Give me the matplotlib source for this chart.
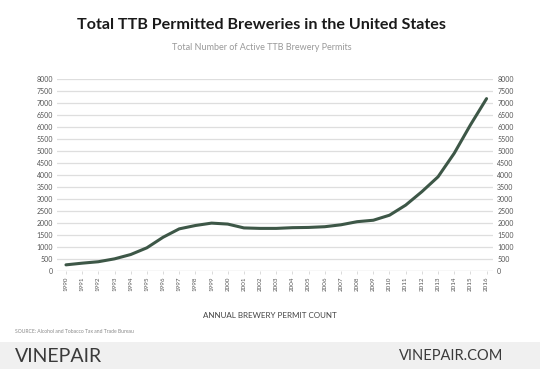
import matplotlib.pyplot as plt
from matplotlib.patches import Rectangle

years = list(range(1990, 2017))
permits = [250, 320, 380, 500, 680, 960, 1400, 1750, 1890, 1990, 1950, 1790,
           1770, 1770, 1800, 1810, 1840, 1920, 2050, 2110, 2320, 2740, 3300,
           3920, 4900, 6080, 7180]
yticks = list(range(0, 8001, 500))

title = "Total TTB Permitted Breweries in the United States"
subtitle = "Total Number of Active TTB Brewery Permits"
xlabel = "ANNUAL BREWERY PERMIT COUNT"
source = "SOURCE: Alcohol and Tobacco Tax and Trade Bureau"

plt.rcParams['font.family'] = ['Lato', 'DejaVu Sans']

fig = plt.figure(figsize=(5.4, 3.69), dpi=100)
fig.patch.set_facecolor('white')

ax = fig.add_axes([0.106, 0.266, 0.807, 0.52])
ax.plot(years, permits, color='#3d5747', lw=2.2, solid_capstyle='round')
ax.set_xlim(1989.46, 2016.4)
ax.set_ylim(0, 8000)
ax.set_yticks(yticks)
ax.set_xticks(years)
ax.set_xticklabels([str(y) for y in years], rotation=90, fontsize=4.5, color='#555555')
ax.grid(axis='y', color='#dedede', lw=0.9)
ax.set_axisbelow(True)
for s in ax.spines.values():
    s.set_visible(False)
ax.tick_params(axis='y', length=0, labelsize=5, colors='#555555', pad=3,
               labelright=True, right=False)
ax.tick_params(axis='x', length=2, width=0.5, color='#cccccc', pad=2)
ax.axhline(0, color='#d0d0d0', lw=0.8)

fig.text(0.485, 0.932, title, ha='center', va='center', fontsize=11.6,
         fontweight='bold', color='#1a1a1a')
fig.text(0.485, 0.870, subtitle, ha='center', va='center', fontsize=6.5,
         color='#999999')
fig.text(0.5, 0.146, xlabel, ha='center', va='center', fontsize=5.8,
         color='#444444')
fig.text(0.028, 0.101, source, ha='left', va='center', fontsize=3.6,
         color='#888888')

# footer band
fig.patches.append(Rectangle((0, 0), 1, 0.072, transform=fig.transFigure,
                             facecolor='#f0f0f0', edgecolor='none', zorder=0))
fig.text(0.028, 0.034, "VINEPAIR", ha='left', va='center', fontsize=14,
         color='#3a3a3a')
fig.text(0.933, 0.034, "VINEPAIR.COM", ha='right', va='center', fontsize=10.5,
         color='#3a3a3a')

fig.savefig('out.png', dpi=100)
